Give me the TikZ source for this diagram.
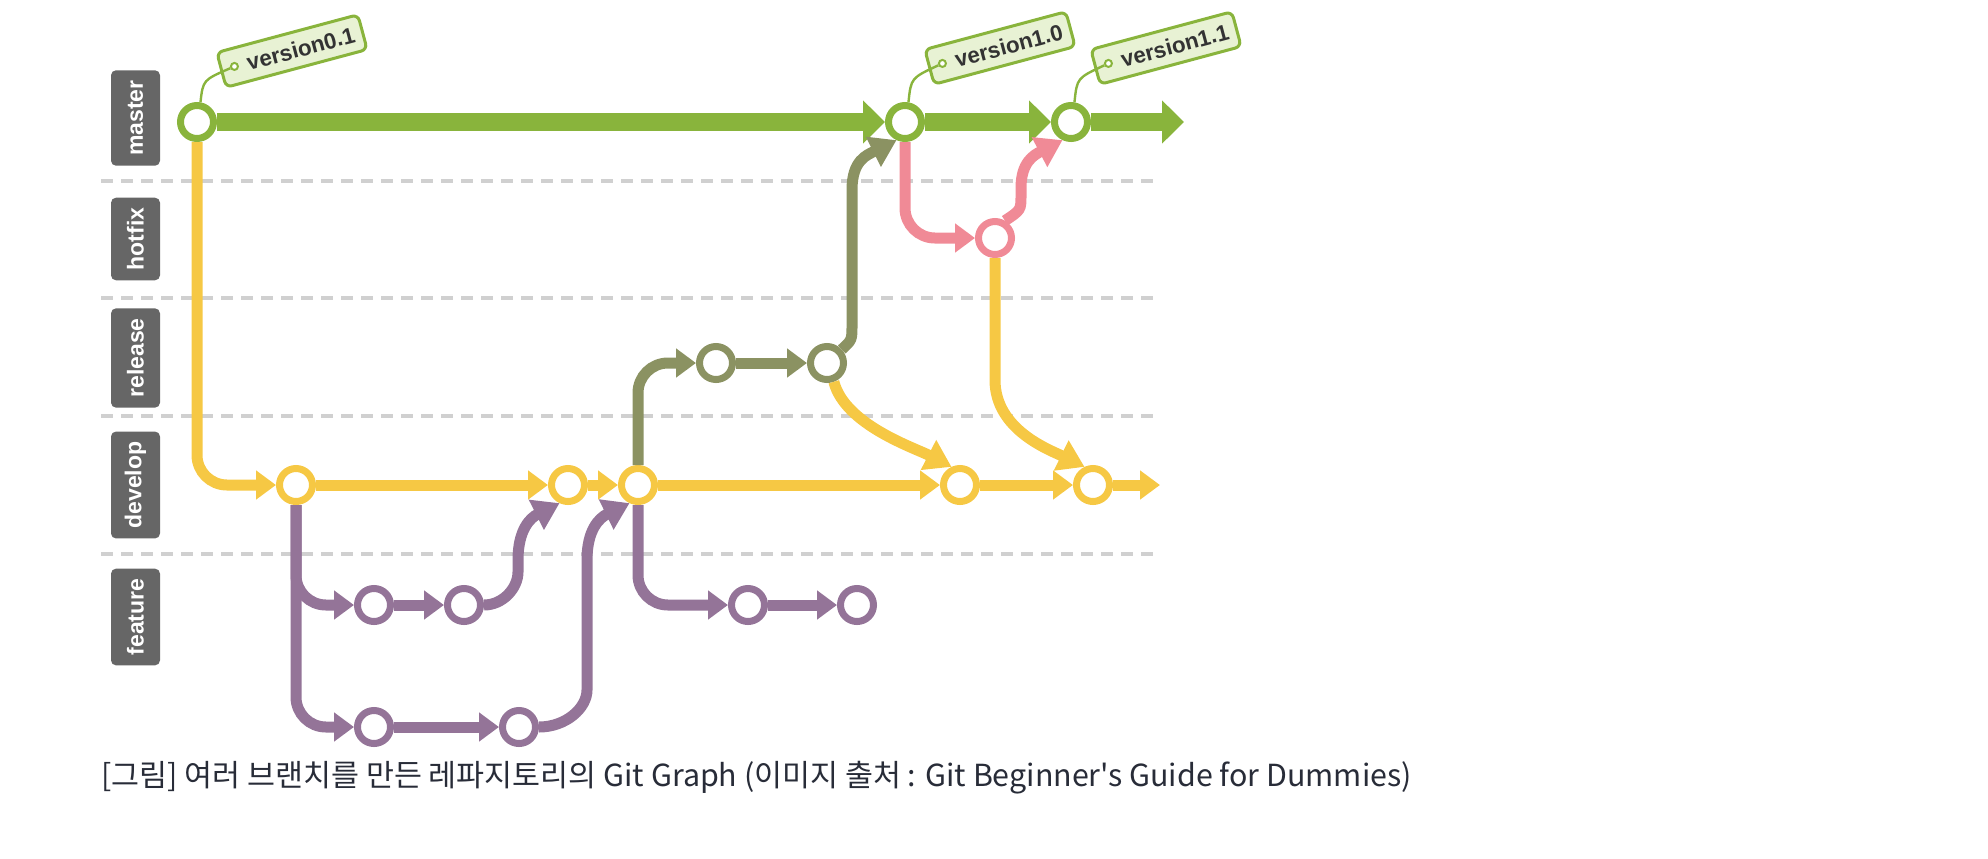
\documentclass[tikz,border=0pt]{standalone}
\usepackage{fontspec}
\setmainfont{Liberation Sans}
\newfontfamily\krfont{Noto Sans CJK KR}
\usetikzlibrary{arrows.meta,calc}
\definecolor{MasterGreen}{RGB}{137,180,60}
\definecolor{HotfixPink}{RGB}{240,138,150}
\definecolor{ReleaseOlive}{RGB}{139,146,98}
\definecolor{DevelopYellow}{RGB}{246,200,68}
\definecolor{FeaturePurple}{RGB}{148,116,152}
\definecolor{LabelGray}{RGB}{102,102,102}
\definecolor{LaneGray}{RGB}{208,208,208}
\definecolor{TagFill}{RGB}{232,242,212}
\definecolor{CaptionInk}{RGB}{40,44,56}

\begin{document}
\begin{tikzpicture}[x=0.5pt,y=-0.5pt,>={Triangle[length=10pt,width=14pt]},
  commit/.style={circle,draw=#1,fill=white,line width=3.5pt,minimum size=16.5pt,inner sep=0pt},
  flow/.style={#1,line width=5.5pt},
  bent/.style={-{Triangle[length=13pt,width=16pt]}},
  trunk/.style={MasterGreen,line width=9pt,-{Triangle[length=11pt,width=21pt]}},
  lane/.style={LaneGray,line width=2pt,dash pattern=on 6pt off 4pt},
  branchlabel/.style={fill=LabelGray,text=white,rounded corners=2.5pt,rotate=90,minimum height=24.5pt,inner xsep=5pt,font=\fontsize{11.5}{12}\selectfont\bfseries},
  tag/.style={draw=MasterGreen,fill=TagFill,line width=1.5pt,rounded corners=3pt,rotate=15,minimum width=73pt,minimum height=18pt,inner sep=0pt,text=black!80,font=\fontsize{11.2}{12}\selectfont\bfseries},
  hole/.style={circle,draw=MasterGreen,fill=white,line width=1pt,minimum size=3.5pt,inner sep=0pt},
  tagline/.style={MasterGreen,line width=1.2pt}]
  \useasboundingbox (0,0) rectangle (1988,858);

  % lanes
  \foreach \y in {181,298,416,554}
    \draw[lane] (101,\y) -- (1156,\y);
  \node[branchlabel] (lbmaster) at (135.5,118) {master};
  \node[branchlabel] (lbhotfix) at (135.5,239) {hotfix};
  \node[branchlabel] (lbrelease) at (135.5,358) {release};
  \node[branchlabel] (lbdevelop) at (135.5,485) {develop};
  \node[branchlabel] (lbfeature) at (135.5,617) {feature};

  % commits
  \node[commit=MasterGreen] (m1) at (197,122) {};
  \node[commit=MasterGreen] (m2) at (905,122) {};
  \node[commit=MasterGreen] (m3) at (1071,122) {};
  \node[commit=HotfixPink] (h1) at (995,238) {};
  \node[commit=ReleaseOlive] (r1) at (716,363) {};
  \node[commit=ReleaseOlive] (r2) at (827,363) {};
  \node[commit=DevelopYellow] (d1) at (296,485) {};
  \node[commit=DevelopYellow] (d2) at (568,485) {};
  \node[commit=DevelopYellow] (d3) at (638,485) {};
  \node[commit=DevelopYellow] (d4) at (960,485) {};
  \node[commit=DevelopYellow] (d5) at (1093,485) {};
  \node[commit=FeaturePurple] (f1) at (374,605) {};
  \node[commit=FeaturePurple] (f2) at (464,605) {};
  \node[commit=FeaturePurple] (f3) at (374,727) {};
  \node[commit=FeaturePurple] (f4) at (519,727) {};
  \node[commit=FeaturePurple] (f5) at (748,605) {};
  \node[commit=FeaturePurple] (f6) at (857,605) {};
  \coordinate (mend) at (1184,122);
  \coordinate (dend) at (1160,485);

  % master
  \draw[trunk] (m1) -- (m2);
  \draw[trunk] (m2) -- (m3);
  \draw[trunk] (m3) -- (mend);

  % develop
  \draw[flow=DevelopYellow,->,rounded corners=15pt] (m1) |- (d1);
  \foreach \a/\b in {d1/d2,d2/d3,d3/d4,d4/d5,d5/dend}
    \draw[flow=DevelopYellow,->] (\a) -- (\b);

  % feature
  \draw[flow=FeaturePurple,->,rounded corners=15pt] (d1) |- (f1);
  \draw[flow=FeaturePurple,->,rounded corners=15pt] (d1) |- (f3);
  \draw[flow=FeaturePurple,->,rounded corners=15pt] (d3) |- (f5);
  \foreach \a/\b in {f1/f2,f3/f4,f5/f6}
    \draw[flow=FeaturePurple,->] (\a) -- (\b);
  \draw[flow=FeaturePurple,bent] (f2) .. controls (503,605) and (518,588) .. (518,572) -- (518,560) .. controls (518,530) and (530,518) .. (d2.245);
  \draw[flow=FeaturePurple,bent] (f4) .. controls (566,727) and (587,708) .. (587,690) -- (587,560) .. controls (587,530) and (599,518) .. (d3.245);

  % release
  \draw[flow=ReleaseOlive,->,rounded corners=15pt] (d3) |- (r1);
  \draw[flow=ReleaseOlive,->] (r1) -- (r2);
  \draw[flow=ReleaseOlive,bent] (r2) .. controls (852,340) .. (852,325) -- (852,190) .. controls (852,160) and (867,155) .. (m2.245);
  \draw[flow=DevelopYellow,bent] (r2.290) .. controls (845,425) and (915,448) .. (d4.115);

  % hotfix
  \draw[flow=HotfixPink,->,rounded corners=15pt] (m2) |- (h1);
  \draw[flow=HotfixPink,bent] (h1.60) .. controls (1021,210) .. (1021,195) -- (1021,188) .. controls (1021,162) and (1034,155) .. (m3.245);
  \draw[flow=DevelopYellow,bent] (h1) -- (995,380) .. controls (995,430) and (1050,450) .. (d5.115);

  % tags
  \node[tag] (t1) at (292,51) {\hspace*{9pt}version0.1};
  \node[tag] (t2) at (1000,48) {\hspace*{9pt}version1.0};
  \node[tag] (t3) at (1166,48) {\hspace*{9pt}version1.1};
  \node[hole] (t1h) at ($(t1.west)!0.1!(t1.east)$) {};
  \node[hole] (t2h) at ($(t2.west)!0.1!(t2.east)$) {};
  \node[hole] (t3h) at ($(t3.west)!0.1!(t3.east)$) {};
  \draw[tagline] (m1.80) .. controls (203,80) .. (t1h);
  \draw[tagline] (m2.80) .. controls (911,78) .. (t2h);
  \draw[tagline] (m3.80) .. controls (1077,78) .. (t3h);

  \node[anchor=base west,inner sep=0pt,text=CaptionInk,font=\krfont\fontsize{15.2}{17}\selectfont] (caption) at (101,786)
    {[그림] 여러 브랜치를 만든 레파지토리의 Git Graph (이미지 출처 : Git Beginner's Guide for Dummies)};
\end{tikzpicture}
\end{document}
